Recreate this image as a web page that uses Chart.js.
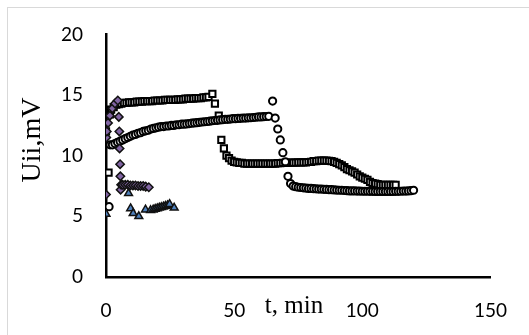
<!DOCTYPE html>
<html>
<head>
<meta charset="utf-8">
<script src="https://cdn.jsdelivr.net/npm/chart.js@4"></script>
<style>
  body { margin: 0; background: #fff; }
  #wrap { position: relative; width: 529px; height: 335px; overflow: hidden; }
  #frame { position: absolute; left: 7px; top: 7px; width: 600px; height: 400px; border: 1.5px solid #d9d9d9; }
  canvas { position: absolute; left: 0; top: 0; }
</style>
</head>
<body>
<div id="wrap">
  <div id="frame"></div>
  <canvas id="myChart" width="529" height="335"></canvas>
</div>
<script>
// tick labels
const xTicks = [0, 50, 100, 150];
const yTicks = [0, 5, 10, 15, 20];

// squares series (t, min / Uii, mV)
const sqT = [0, 1, 1.5, 2, 3, 4, 5, 6, 7, 8, 9, 10, 11, 12, 13, 14, 15, 16, 17, 18, 19, 20,
  21, 22, 23, 24, 25, 26, 27, 28, 29, 30, 31, 32, 33, 34, 35, 36, 37, 38, 39, 40,
  41.5, 42.5, 44, 45, 46, 47, 48, 49, 50, 51, 52, 53, 54, 55, 56, 57, 58, 59, 60,
  61, 62, 63, 64, 65, 66, 67, 68, 69, 70, 71, 72, 73, 74, 75, 76, 77, 78, 79, 80,
  81, 82, 83, 84, 85, 86, 87, 88, 89, 90, 91, 92, 93, 94, 95, 96, 97, 98, 99, 100,
  101, 102, 103, 104, 105, 106, 107, 108, 109, 110, 111, 112, 113];
const sqV = [12.0, 8.6, 13.4, 13.8, 14.0, 14.2, 14.25, 14.3, 14.35, 14.35, 14.4, 14.4, 14.4, 14.45, 14.45, 14.45, 14.5, 14.5, 14.5, 14.5, 14.55, 14.55,
  14.55, 14.55, 14.6, 14.6, 14.6, 14.6, 14.6, 14.65, 14.65, 14.65, 14.7, 14.7, 14.7, 14.7, 14.75, 14.75, 14.75, 14.8, 14.8, 14.85,
  15.1, 14.3, 13.3, 11.3, 10.6, 10.0, 9.8, 9.6, 9.5, 9.45, 9.4, 9.4, 9.35, 9.35, 9.35, 9.35, 9.35, 9.35, 9.35,
  9.35, 9.35, 9.35, 9.35, 9.35, 9.35, 9.38, 9.38, 9.4, 9.4, 9.4, 9.42, 9.42, 9.42, 9.45, 9.45, 9.45, 9.45, 9.48, 9.5,
  9.55, 9.55, 9.6, 9.6, 9.6, 9.6, 9.58, 9.55, 9.5, 9.4, 9.3, 9.2, 9.05, 8.9, 8.8, 8.7, 8.6, 8.45, 8.3, 8.2,
  8.1, 8.0, 7.85, 7.75, 7.7, 7.65, 7.6, 7.6, 7.6, 7.6, 7.6, 7.6, 7.6];

// circles series
const ciT = [1.2, 1.6, 2.5, 3.5, 4.5, 5.5, 6.5, 7.5, 8.5, 9.5, 10.5, 11.5, 12.5, 13.5, 14.5, 15.5, 16.5, 17.5, 18.5, 19.5,
  20.5, 21.5, 22.5, 23.5, 24.5, 25.5, 26.5, 27.5, 28.5, 29.5, 30.5, 31.5, 32.5, 33.5, 34.5, 35.5, 36.5, 37.5, 38.5, 39.5,
  40.5, 41.5, 42.5, 43.5, 44.5, 45.5, 46.5, 47.5, 48.5, 49.5, 50.5, 51.5, 52.5, 53.5, 54.5, 55.5, 56.5, 57.5, 58.5, 59.5,
  60.5, 61.5, 62.5, 63.5, 65, 66, 67, 68, 69, 70, 71, 72, 73, 74, 75, 76, 77, 78, 79, 80,
  81, 82, 83, 84, 85, 86, 87, 88, 89, 90, 91, 92, 93, 94, 95, 96, 97, 98, 99, 100,
  101, 102, 103, 104, 105, 106, 107, 108, 109, 110, 111, 112, 113, 114, 115, 116, 117, 118, 119, 120];
const ciV = [5.8, 10.9, 10.9, 11.0, 11.1, 11.2, 11.3, 11.4, 11.5, 11.6, 11.7, 11.75, 11.85, 11.9, 12.0, 12.05, 12.1, 12.2, 12.25, 12.3,
  12.35, 12.4, 12.4, 12.45, 12.45, 12.5, 12.5, 12.55, 12.55, 12.6, 12.6, 12.62, 12.65, 12.68, 12.7, 12.72, 12.75, 12.78, 12.8, 12.82,
  12.85, 12.88, 12.9, 12.92, 12.95, 12.97, 13.0, 13.0, 13.02, 13.05, 13.05, 13.07, 13.08, 13.1, 13.1, 13.12, 13.13, 13.15, 13.17, 13.2,
  13.2, 13.22, 13.23, 13.25, 14.5, 13.1, 12.2, 11.3, 10.25, 9.5, 8.3, 7.7, 7.5, 7.45, 7.4, 7.38, 7.35, 7.33, 7.3, 7.3,
  7.28, 7.27, 7.25, 7.25, 7.23, 7.22, 7.2, 7.2, 7.18, 7.17, 7.15, 7.15, 7.13, 7.12, 7.1, 7.1, 7.1, 7.08, 7.08, 7.07,
  7.07, 7.07, 7.06, 7.06, 7.05, 7.05, 7.05, 7.05, 7.05, 7.05, 7.05, 7.05, 7.06, 7.06, 7.07, 7.08, 7.08, 7.1, 7.12, 7.15];

// diamonds series
const dmT = [0, 0.1, 0.3, 0.8, 1.5, 2.5, 3.5, 4.6, 5.0, 5.2, 5.3, 5.5, 5.6, 5.7, 5.9, 6.5, 7.5, 8.5, 9.5, 10.5, 11.5, 12.5, 13.5, 14.5, 15.5, 16.7];
const dmV = [6.8, 11.5, 12.0, 12.7, 13.3, 13.9, 14.3, 14.55, 13.2, 12.0, 10.6, 9.3, 8.3, 7.2, 7.6, 7.6, 7.6, 7.6, 7.55, 7.55, 7.55, 7.5, 7.5, 7.5, 7.45, 7.4];

// triangles series
const trT = [0, 8.8, 9.6, 10.6, 12.8, 15.4, 17.4, 18.4, 19.2, 20, 20.8, 21.6, 22.4, 23.2, 24, 24.8, 26.6];
const trV = [5.2, 6.9, 5.65, 5.25, 5.0, 5.55, 5.5, 5.55, 5.6, 5.65, 5.7, 5.75, 5.8, 5.85, 5.9, 6.0, 5.7];

const pts = (xs, ys) => xs.map((x, i) => ({ x: x, y: ys[i] }));

const titles = {
  id: "titles",
  afterDraw(chart) {
    const ctx = chart.ctx;
    ctx.save();
    ctx.fillStyle = "#000";
    ctx.font = "25px 'Liberation Serif'";
    ctx.textAlign = "center";
    ctx.textBaseline = "alphabetic";
    ctx.fillText("t, min", 294, 313);
    ctx.translate(40, 140);
    ctx.rotate(-Math.PI / 2);
    ctx.font = "28px 'Liberation Serif'";
    ctx.fillText("Uii,mV", 0, 0);
    ctx.restore();
  }
};

const ctx = document.getElementById("myChart").getContext("2d");
new Chart(ctx, {
  type: "scatter",
  data: {
    datasets: [
      {
        data: pts(trT, trV),
        pointStyle: "triangle",
        pointRadius: 4.5,
        backgroundColor: "#4f81bd",
        borderColor: "#111",
        borderWidth: 1.5,
        order: 0
      },
      {
        data: pts(dmT, dmV),
        pointStyle: "rectRot",
        pointRadius: 4.2,
        backgroundColor: "#8064a2",
        borderColor: "#111",
        borderWidth: 1.5,
        order: 1
      },
      {
        data: pts(ciT, ciV),
        pointStyle: "circle",
        pointRadius: 3.6,
        backgroundColor: "#fff",
        borderColor: "#000",
        borderWidth: 2,
        order: 2
      },
      {
        data: pts(sqT, sqV),
        pointStyle: "rect",
        pointRadius: 4.4,
        backgroundColor: "#fff",
        borderColor: "#000",
        borderWidth: 2,
        order: 3
      }
    ]
  },
  options: {
    responsive: false,
    animation: false,
    devicePixelRatio: 1,
    layout: { padding: { left: 0, top: 31, right: 29, bottom: 0 } },
    plugins: { legend: { display: false }, tooltip: { enabled: false } },
    scales: {
      x: {
        type: "linear",
        min: 0,
        max: 150,
        afterBuildTicks: (s) => { s.ticks = xTicks.map(v => ({ value: v })); },
        ticks: { color: "#000", padding: 22, font: { family: "Lato", size: 19 } },
        grid: { display: false, drawTicks: false },
        border: { display: true, color: "#000", width: 2.5 },
        afterFit: (s) => { s.height = 58; }
      },
      y: {
        type: "linear",
        min: 0,
        max: 20,
        afterBuildTicks: (s) => { s.ticks = yTicks.map(v => ({ value: v })); },
        ticks: { color: "#000", padding: 23, font: { family: "Lato", size: 19 } },
        grid: { display: false, drawTicks: false },
        border: { display: true, color: "#000", width: 2.5 },
        afterFit: (s) => { s.width = 106; }
      }
    }
  },
  plugins: [titles]
});
</script>
</body>
</html>
